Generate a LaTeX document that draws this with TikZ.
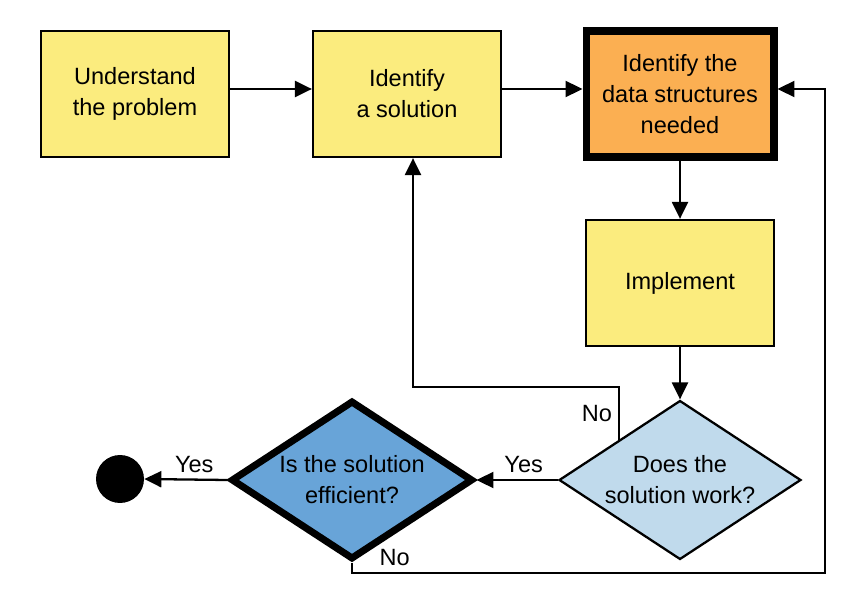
\documentclass[tikz,border=0pt]{standalone}
\usepackage{fontspec}
\setmainfont{Liberation Sans}
\usepackage{xcolor}
\usepackage{tikz}
\usetikzlibrary{shapes.geometric,arrows.meta}
\definecolor{myellow}{HTML}{FBEC7E}
\definecolor{morange}{HTML}{FBAF52}
\definecolor{mlblue}{HTML}{C0DAEC}
\definecolor{mdblue}{HTML}{68A4D8}

\begin{document}
\begin{tikzpicture}[x=0.02cm, y=-0.02cm,
    font=\fontsize{13.4}{17.6}\selectfont,
    stepbox/.style={draw, line width=1.3pt, fill=myellow, minimum width=3.76cm,
        minimum height=2.52cm, align=center, inner sep=0pt},
    decision/.style={diamond, aspect=1.5, draw, line width=1.3pt, fill=mlblue,
        minimum width=4.84cm, minimum height=3.18cm, align=center, inner sep=0pt},
    flow/.style={-{Triangle[length=3.4mm,width=3.2mm]}, line width=1.3pt}]
            % Fix the page size
            \useasboundingbox (0,0) rectangle (866,608);

            % Draw the steps
            \node[stepbox] (understand) at (135,94) {Understand\\the problem};
            \node[stepbox] (solution) at (407,94) {Identify\\a solution};
            \node[stepbox, fill=morange, line width=4pt] (structures) at (680,94)
                {Identify the\\data structures\\needed};
            \node[stepbox] (implement) at (680,283) {Implement};

            % Draw the two questions
            \node[decision] (works) at (680,480) {Does the\\solution work?};
            \node[decision, fill=mdblue, line width=4pt] (efficient) at (352,480)
                {Is the solution\\efficient?};

            % The end point
            \node[circle, fill=black, minimum size=0.96cm, inner sep=0pt] (finish) at (120,479) {};

            % Corners of the way back
            \coordinate (back) at (413,387);
            \coordinate (bottom) at (825,573);

            % Connect the steps
            \draw[flow] ([yshift=0.1cm]understand.east) -- ([yshift=0.1cm]solution.west);
            \draw[flow] ([yshift=0.1cm]solution.east) -- ([yshift=0.1cm]structures.west);
            \draw[flow] (structures.south) -- (implement.north);
            \draw[flow] (implement.south) -- (works.north);

            % Answers of the questions
            \draw[flow] (works.north west) |- (back) node[pos=0.25, left] {No}
                -- (back |- solution.south);
            \draw[flow] (works.west) -- (efficient.east) node[pos=0.42, above] {Yes};
            \draw[flow] (efficient.west) -- (finish.east) node[pos=0.4, above] {Yes};
            \draw[flow] (efficient.south) |- (bottom) node[pos=0.545, above] {No}
                |- ([yshift=0.1cm]structures.east);
          \end{tikzpicture}
\end{document}
